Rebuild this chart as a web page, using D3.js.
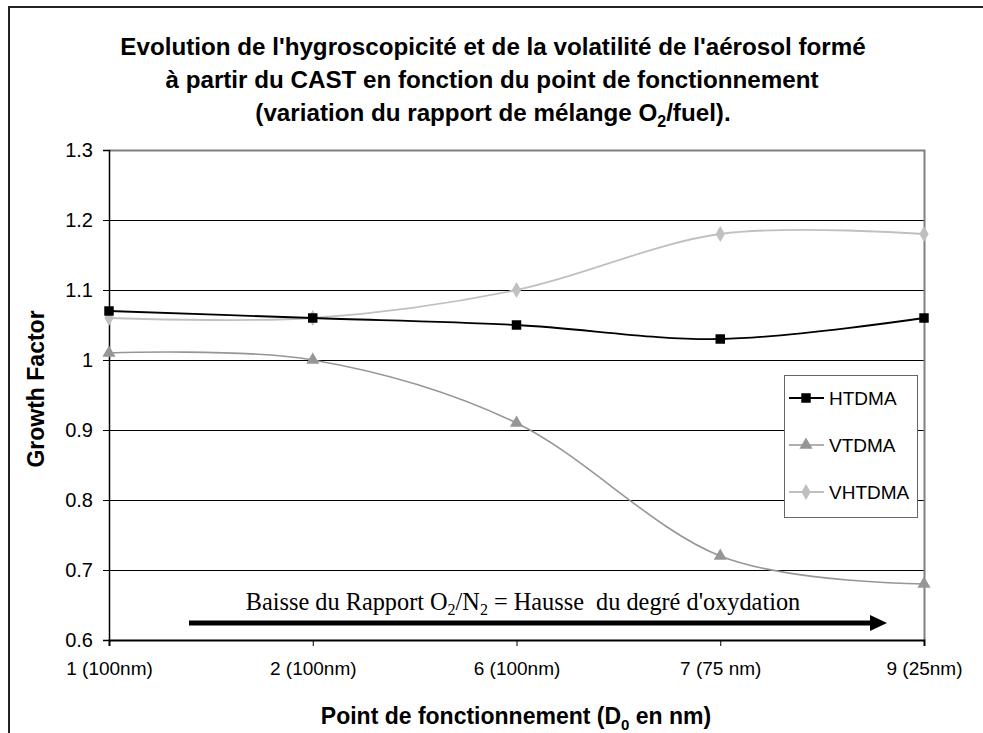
<!DOCTYPE html>
<html><head><meta charset="utf-8">
<script src="https://cdn.jsdelivr.net/npm/d3@7"></script>
<style>body{margin:0;background:#fff}svg{display:block}</style>
</head><body>
<script>
const categories = ["1 (100nm)", "2 (100nm)", "6 (100nm)", "7 (75 nm)", "9 (25nm)"];
const htdma  = [1.07, 1.06, 1.05, 1.03, 1.06];
const vtdma  = [1.01, 1.00, 0.91, 0.72, 0.68];
const vhtdma = [1.06, 1.06, 1.10, 1.18, 1.18];
const yTicks = [0.6, 0.7, 0.8, 0.9, 1.0, 1.1, 1.2, 1.3];
const seriesNames = ["HTDMA", "VTDMA", "VHTDMA"];

const W = 983, H = 733;
const m = {left: 109, right: 924, top: 150, bottom: 640};
const SANS = "Liberation Sans, Arial, sans-serif";
const svg = d3.select("body").append("svg").attr("width", W).attr("height", H);

svg.append("path").attr("d", `M9,${H} L9,7 L${W},7`).attr("fill","none").attr("stroke","#222").attr("stroke-width",2);

const x = d3.scalePoint().domain(categories).range([m.left, m.right]);
const y = d3.scaleLinear().domain([0.6, 1.3]).range([m.bottom, m.top]);

svg.append("g").selectAll("line").data(yTicks.filter(t => t > 0.6 && t < 1.3)).join("line")
  .attr("x1", m.left).attr("x2", m.right).attr("y1", d => Math.round(y(d))+0.5).attr("y2", d => Math.round(y(d))+0.5)
  .attr("stroke", "#000").attr("stroke-width", 1);

svg.append("path").attr("d", `M${m.left},${m.top+0.5} L${m.right+0.5},${m.top+0.5} L${m.right+0.5},${m.bottom}`)
  .attr("fill","none").attr("stroke","#808080").attr("stroke-width",2);

const yAxis = svg.append("g").attr("transform", `translate(${m.left},0)`)
  .call(d3.axisLeft(y).tickValues(yTicks).tickSize(6).tickPadding(10).tickFormat(d => d === 1 ? "1" : d3.format(".1f")(d)));
yAxis.select(".domain").attr("stroke","#000").attr("stroke-width",1.5);
yAxis.selectAll(".tick line").attr("stroke","#000");
yAxis.selectAll("text").attr("font-family",SANS).attr("font-size",20).attr("fill","#000");

const xAxis = svg.append("g").attr("transform", `translate(0,${m.bottom})`)
  .call(d3.axisBottom(x).tickSize(6).tickPadding(16));
xAxis.select(".domain").attr("stroke","#000").attr("stroke-width",2);
xAxis.selectAll(".tick line").attr("stroke","#000");
xAxis.selectAll("text").attr("font-family",SANS).attr("font-size",19).attr("fill","#000");

const title = svg.append("text").attr("text-anchor","middle").attr("font-family",SANS)
  .attr("font-weight","bold").attr("font-size",24.2).attr("fill","#000");
title.append("tspan").attr("x",493).attr("y",55).text("Evolution de l'hygroscopicité et de la volatilité de l'aérosol formé");
title.append("tspan").attr("x",492).attr("y",88).text("à partir du CAST en fonction du point de fonctionnement");
const t3 = title.append("tspan").attr("x",493).attr("y",121);
t3.append("tspan").text("(variation du rapport de mélange O");
t3.append("tspan").attr("font-size",16).attr("dy",6).text("2");
t3.append("tspan").attr("dy",-6).text("/fuel).");

svg.append("text").attr("transform","translate(44,389) rotate(-90)").attr("text-anchor","middle")
  .attr("font-family",SANS).attr("font-weight","bold").attr("font-size",23).text("Growth Factor");

const xt = svg.append("text").attr("x",516).attr("y",724).attr("text-anchor","middle")
  .attr("font-family",SANS).attr("font-weight","bold").attr("font-size",23);
xt.append("tspan").text("Point de fonctionnement (D");
xt.append("tspan").attr("font-size",15).attr("dy",6).text("0");
xt.append("tspan").attr("dy",-6).text(" en nm)");

const at = svg.append("text").attr("x",523).attr("y",610).attr("text-anchor","middle")
  .attr("font-family","Liberation Serif, Times New Roman, serif").attr("font-size",24.3).attr("xml:space","preserve");
at.append("tspan").text("Baisse du Rapport O");
at.append("tspan").attr("font-size",16).attr("dy",5).text("2");
at.append("tspan").attr("dy",-5).text("/N");
at.append("tspan").attr("font-size",16).attr("dy",5).text("2");
at.append("tspan").attr("dy",-5).text(" = Hausse  du degré d'oxydation");
svg.append("line").attr("x1",189).attr("x2",872).attr("y1",623).attr("y2",623).attr("stroke","#000").attr("stroke-width",5);
svg.append("path").attr("d","M870,615 L887,623 L870,631 Z").attr("fill","#000");

const series = [
  {name: seriesNames[0], vals: htdma, color: "#000", width: 1.8, marker: "square"},
  {name: seriesNames[1], vals: vtdma, color: "#969696", width: 1.6, marker: "triangle"},
  {name: seriesNames[2], vals: vhtdma, color: "#c0c0c0", width: 1.8, marker: "diamond"}
];
const line = d3.line().x((d,i) => x(categories[i])).y(d => y(d)).curve(d3.curveCardinal.tension(0));
function markerPath(type) {
  if (type === "square") return d3.symbol(d3.symbolSquare, 90)();
  if (type === "triangle") return d3.symbol(d3.symbolTriangle, 75)();
  return d3.symbol(d3.symbolDiamond, 75)();
}
[2,1,0].forEach(k => {
  const s = series[k];
  svg.append("path").attr("d", line(s.vals)).attr("fill","none").attr("stroke", s.color).attr("stroke-width", s.width);
  svg.append("g").selectAll("path").data(s.vals).join("path")
    .attr("transform", (d,i) => `translate(${x(categories[i])},${y(d)})`)
    .attr("d", markerPath(s.marker)).attr("fill", s.color);
});

const lg = svg.append("g");
lg.append("rect").attr("x",784.5).attr("y",375.5).attr("width",133).attr("height",142)
  .attr("fill","#fff").attr("stroke","#666").attr("stroke-width",1);
series.forEach((s,i) => {
  const yy = 398 + i*47;
  lg.append("line").attr("x1",789).attr("x2",824).attr("y1",yy).attr("y2",yy).attr("stroke",s.color).attr("stroke-width",s.width);
  lg.append("path").attr("transform",`translate(806,${yy})`).attr("d",markerPath(s.marker)).attr("fill",s.color);
  lg.append("text").attr("x",829).attr("y",yy+7).attr("font-family",SANS)
    .attr("font-size",19).text(s.name);
});
</script>
</body></html>
